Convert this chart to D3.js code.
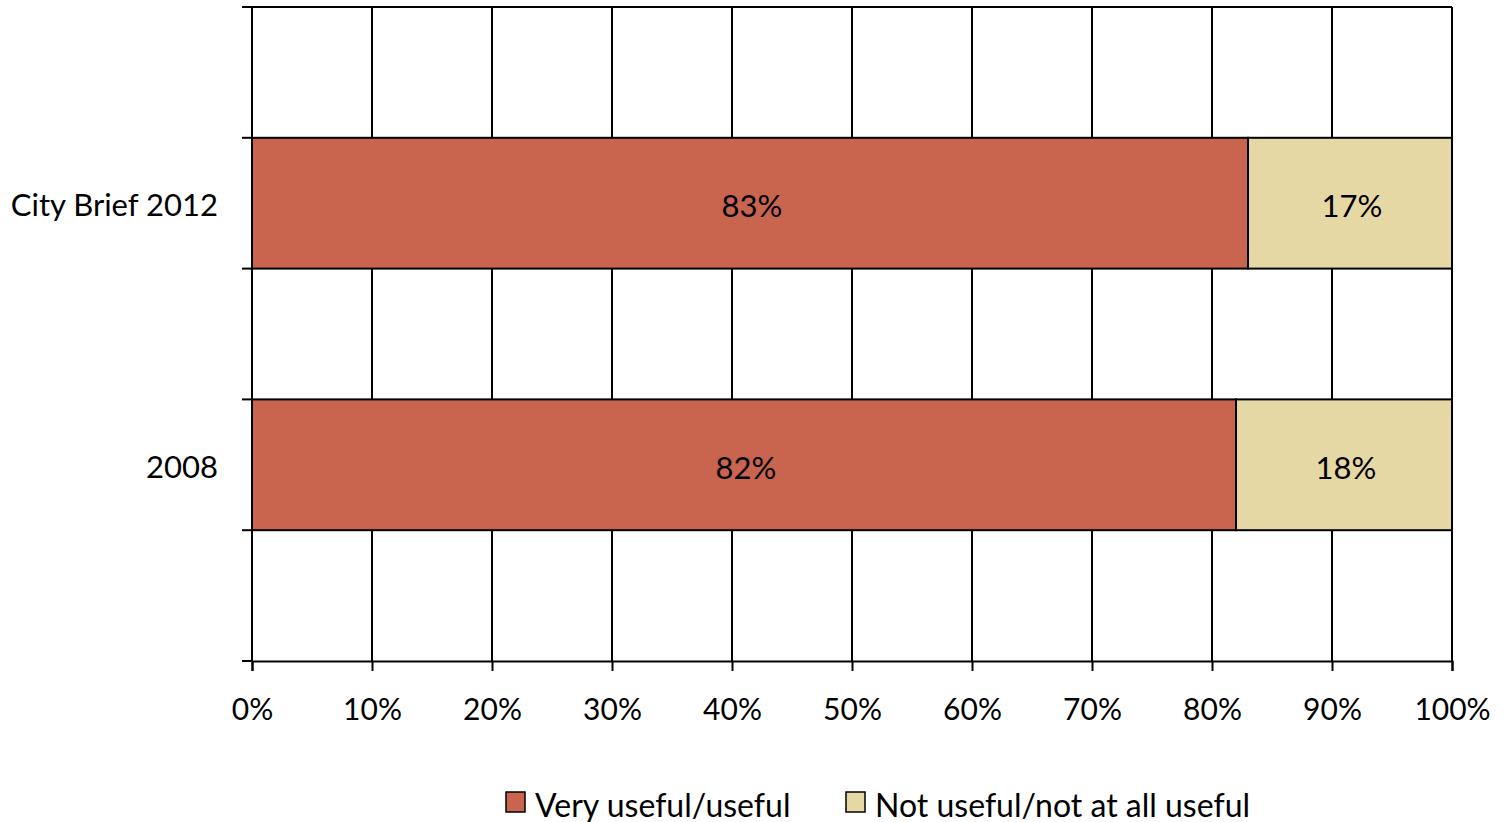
<!DOCTYPE html>
<html>
<head>
<meta charset="utf-8">
<script src="https://cdn.jsdelivr.net/npm/d3@7"></script>
<style>
  html, body { margin: 0; padding: 0; background: #fff; }
  svg { display: block; }
  text { font-family: Lato, "Open Sans", sans-serif; fill: #000; }
</style>
</head>
<body>
<svg id="chart" width="1510" height="822"></svg>
<script>
// Category slots (empty slots pad the axis like the original)
const slots = ["s0", "City Brief 2012", "s2", "2008", "s4"];
const categories = ["City Brief 2012", "2008"];
const seriesNames = ["Very useful/useful", "Not useful/not at all useful"];
const veryUseful = [0.83, 0.82];
const notUseful = [0.17, 0.18];
const xTicks = [0, 0.1, 0.2, 0.3, 0.4, 0.5, 0.6, 0.7, 0.8, 0.9, 1.0];
const colors = ["#C9654E", "#E5D8A5"];

(function () {
const svg = d3.select("#chart");
const mLeft = 252, mRight = 1452, mTop = 7, mBottom = 661;

const x = d3.scaleLinear().domain([0, 1]).range([mLeft, mRight]);
const y = d3.scaleBand().domain(slots).range([mTop, mBottom]).padding(0);

// vertical gridlines
svg.append("g").selectAll("line").data(xTicks).join("line")
  .attr("x1", d => x(d)).attr("x2", d => x(d))
  .attr("y1", mTop).attr("y2", mBottom)
  .attr("stroke", "#000").attr("stroke-width", 2);

// top border line
svg.append("line").attr("x1", mLeft - 10).attr("x2", mRight)
  .attr("y1", mTop).attr("y2", mTop).attr("stroke", "#000").attr("stroke-width", 2);

// stacked data
const rows = categories.map((c, i) => ({ cat: c, vals: [veryUseful[i], notUseful[i]] }));
const stack = d3.stack().keys([0, 1]).value((d, k) => d.vals[k]);
const layers = stack(rows);

const gBars = svg.append("g");
layers.forEach((layer, k) => {
  gBars.selectAll(null).data(layer).join("rect")
    .attr("x", d => x(d[0]))
    .attr("y", d => y(d.data.cat))
    .attr("width", d => x(d[1]) - x(d[0]))
    .attr("height", y.bandwidth())
    .attr("fill", colors[k])
    .attr("stroke", "#000").attr("stroke-width", 2);
});
layers.forEach((layer, k) => {
  gBars.selectAll(null).data(layer).join("text")
    .attr("x", d => (x(d[0]) + x(d[1])) / 2 + 2)
    .attr("y", d => y(d.data.cat) + y.bandwidth() / 2 + 2)
    .attr("text-anchor", "middle").attr("dominant-baseline", "central")
    .attr("font-size", 31)
    .text(d => Math.round((d[1] - d[0]) * 100) + "%");
});

// x axis
const xAxis = d3.axisBottom(x).tickValues(xTicks).tickSize(10).tickPadding(28)
  .tickFormat(d => Math.round(d * 100) + "%");
const gx = svg.append("g").attr("transform", `translate(0,${mBottom})`).call(xAxis);
gx.select(".domain").attr("stroke", "#000").attr("stroke-width", 2);
gx.selectAll(".tick line").attr("stroke", "#000").attr("stroke-width", 2);
gx.selectAll(".tick text").attr("font-size", 30).attr("font-family", "Lato, sans-serif").attr("fill", "#000");

// y axis: ticks at slot boundaries
const boundaries = slots.map(s => y(s)).concat([mBottom]);
svg.append("line").attr("x1", mLeft).attr("x2", mLeft).attr("y1", mTop).attr("y2", mBottom)
  .attr("stroke", "#000").attr("stroke-width", 2);
svg.append("g").selectAll("line").data(boundaries).join("line")
  .attr("x1", mLeft - 10).attr("x2", mLeft)
  .attr("y1", d => d).attr("y2", d => d)
  .attr("stroke", "#000").attr("stroke-width", 2);
svg.append("g").selectAll("text").data(categories).join("text")
  .attr("x", 218).attr("y", d => y(d) + y.bandwidth() / 2 + 1)
  .attr("text-anchor", "end").attr("dominant-baseline", "central")
  .attr("font-size", 31).text(d => d);

// legend
const legendItems = [
  { name: seriesNames[0], color: colors[0], x: 506 },
  { name: seriesNames[1], color: colors[1], x: 846 }
];
const lg = svg.append("g");
legendItems.forEach(it => {
  lg.append("rect").attr("x", it.x).attr("y", 792).attr("width", 19).attr("height", 20)
    .attr("fill", it.color).attr("stroke", "#000").attr("stroke-width", 1.5);
  lg.append("text").attr("x", it.x + 29).attr("y", 804)
    .attr("dominant-baseline", "central").attr("font-size", 32).text(it.name);
});
})();
</script>
</body>
</html>
